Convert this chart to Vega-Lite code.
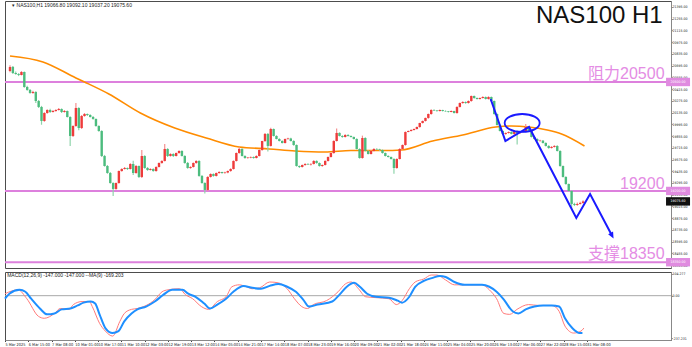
{
"$schema": "https://vega.github.io/schema/vega-lite/v6.json",
"padding": 0,
"spacing": 2,
"background": "white",
"config": {"view": {"stroke": "#4d4d4d", "strokeWidth": 1}, "font": "Liberation Sans", "axis": {"grid": false, "labelFont": "Liberation Sans Narrow, DejaVu Sans Condensed, Liberation Sans", "labelFontSize": 3.5, "labelColor": "#222", "tickColor": "#444", "tickSize": 1, "domainColor": "#888", "title": null, "labelOverlap": false, "labelBound": false}},
"datasets": {
"candles": [
{"i":0,"o":20630,"h":20700,"l":20615,"c":20680},{"i":2,"o":20680,"h":20690,"l":20595,"c":20607},{"i":4,"o":20607,"h":20625,"l":20585,"c":20595},{"i":6,"o":20595,"h":20605,"l":20570,"c":20584},{"i":8,"o":20584,"h":20630,"l":20578,"c":20619},
{"i":10,"o":20619,"h":20625,"l":20430,"c":20440},{"i":12,"o":20440,"h":20455,"l":20395,"c":20405},{"i":14,"o":20405,"h":20415,"l":20360,"c":20369},{"i":16,"o":20369,"h":20395,"l":20360,"c":20381},{"i":18,"o":20381,"h":20390,"l":20250,"c":20273},
{"i":20,"o":20273,"h":20285,"l":20190,"c":20202},{"i":22,"o":20202,"h":20215,"l":19990,"c":20035},{"i":24,"o":20035,"h":20140,"l":20025,"c":20130},{"i":26,"o":20130,"h":20175,"l":20120,"c":20166},{"i":28,"o":20166,"h":20180,"l":20130,"c":20142},
{"i":30,"o":20142,"h":20165,"l":20135,"c":20154},{"i":32,"o":20154,"h":20175,"l":20145,"c":20166},{"i":34,"o":20166,"h":20190,"l":20160,"c":20178},{"i":36,"o":20178,"h":20185,"l":20130,"c":20142},{"i":38,"o":20142,"h":20165,"l":20135,"c":20154},
{"i":40,"o":20154,"h":20160,"l":20075,"c":20082},{"i":42,"o":20082,"h":20090,"l":19735,"c":19856},{"i":44,"o":19856,"h":19985,"l":19845,"c":19975},{"i":46,"o":19975,"h":20250,"l":19965,"c":20190},{"i":48,"o":20190,"h":20200,"l":19925,"c":19951},
{"i":50,"o":19951,"h":20105,"l":19940,"c":20094},{"i":52,"o":20094,"h":20130,"l":20085,"c":20118},{"i":54,"o":20118,"h":20125,"l":20095,"c":20106},{"i":56,"o":20106,"h":20115,"l":20075,"c":20082},{"i":58,"o":20082,"h":20095,"l":20050,"c":20059},
{"i":60,"o":20059,"h":20065,"l":19965,"c":19975},{"i":62,"o":19975,"h":19985,"l":19905,"c":19915},{"i":64,"o":19915,"h":19925,"l":19605,"c":19617},{"i":66,"o":19617,"h":19630,"l":19490,"c":19498},{"i":68,"o":19498,"h":19510,"l":19405,"c":19414},
{"i":70,"o":19414,"h":19425,"l":19285,"c":19295},{"i":72,"o":19295,"h":19305,"l":19140,"c":19224},{"i":74,"o":19224,"h":19300,"l":19215,"c":19295},{"i":76,"o":19295,"h":19445,"l":19285,"c":19438},{"i":78,"o":19438,"h":19470,"l":19430,"c":19462},
{"i":80,"o":19462,"h":19485,"l":19455,"c":19474},{"i":82,"o":19474,"h":19480,"l":19450,"c":19462},{"i":84,"o":19462,"h":19530,"l":19455,"c":19522},{"i":86,"o":19522,"h":19560,"l":19390,"c":19414},{"i":88,"o":19414,"h":19510,"l":19405,"c":19498},
{"i":90,"o":19498,"h":19505,"l":19355,"c":19367},{"i":92,"o":19367,"h":19690,"l":19355,"c":19617},{"i":94,"o":19617,"h":19625,"l":19465,"c":19474},{"i":96,"o":19474,"h":19485,"l":19440,"c":19450},{"i":98,"o":19450,"h":19470,"l":19445,"c":19462},
{"i":100,"o":19462,"h":19470,"l":19430,"c":19438},{"i":102,"o":19438,"h":19495,"l":19430,"c":19486},{"i":104,"o":19486,"h":19540,"l":19480,"c":19534},{"i":106,"o":19534,"h":19565,"l":19525,"c":19558},{"i":108,"o":19558,"h":19760,"l":19550,"c":19701},
{"i":110,"o":19701,"h":19710,"l":19605,"c":19617},{"i":112,"o":19617,"h":19650,"l":19610,"c":19641},{"i":114,"o":19641,"h":19650,"l":19605,"c":19617},{"i":116,"o":19617,"h":19660,"l":19610,"c":19653},{"i":118,"o":19653,"h":19685,"l":19645,"c":19677},
{"i":120,"o":19677,"h":19685,"l":19610,"c":19617},{"i":122,"o":19617,"h":19625,"l":19525,"c":19534},{"i":124,"o":19534,"h":19545,"l":19465,"c":19474},{"i":126,"o":19474,"h":19495,"l":19465,"c":19486},{"i":128,"o":19486,"h":19540,"l":19480,"c":19534},
{"i":130,"o":19534,"h":19565,"l":19525,"c":19558},{"i":132,"o":19558,"h":19565,"l":19370,"c":19379},{"i":134,"o":19379,"h":19390,"l":19285,"c":19295},{"i":136,"o":19295,"h":19305,"l":19170,"c":19212},{"i":138,"o":19212,"h":19375,"l":19200,"c":19367},
{"i":140,"o":19367,"h":19410,"l":19360,"c":19402},{"i":142,"o":19402,"h":19410,"l":19370,"c":19379},{"i":144,"o":19379,"h":19420,"l":19372,"c":19414},{"i":146,"o":19414,"h":19435,"l":19405,"c":19426},{"i":148,"o":19426,"h":19430,"l":19405,"c":19414},
{"i":150,"o":19414,"h":19428,"l":19405,"c":19420},{"i":152,"o":19420,"h":19445,"l":19412,"c":19438},{"i":154,"o":19438,"h":19470,"l":19430,"c":19462},{"i":156,"o":19462,"h":19565,"l":19455,"c":19558},{"i":158,"o":19558,"h":19660,"l":19550,"c":19653},
{"i":160,"o":19653,"h":19720,"l":19645,"c":19701},{"i":162,"o":19701,"h":19710,"l":19610,"c":19617},{"i":164,"o":19617,"h":19625,"l":19585,"c":19593},{"i":166,"o":19593,"h":19605,"l":19585,"c":19598},{"i":168,"o":19598,"h":19612,"l":19590,"c":19605},
{"i":170,"o":19605,"h":19612,"l":19585,"c":19593},{"i":172,"o":19593,"h":19625,"l":19588,"c":19617},{"i":174,"o":19617,"h":19695,"l":19610,"c":19689},{"i":176,"o":19689,"h":19800,"l":19680,"c":19796},{"i":178,"o":19796,"h":19890,"l":19785,"c":19880},
{"i":180,"o":19880,"h":19890,"l":19670,"c":19737},{"i":182,"o":19737,"h":19955,"l":19730,"c":19939},{"i":184,"o":19939,"h":19945,"l":19850,"c":19856},{"i":186,"o":19856,"h":19865,"l":19815,"c":19820},{"i":188,"o":19820,"h":19830,"l":19790,"c":19796},
{"i":190,"o":19796,"h":19805,"l":19765,"c":19772},{"i":192,"o":19772,"h":19825,"l":19765,"c":19820},{"i":194,"o":19820,"h":19835,"l":19810,"c":19826},{"i":196,"o":19826,"h":19835,"l":19790,"c":19796},{"i":198,"o":19796,"h":19805,"l":19740,"c":19748},
{"i":200,"o":19748,"h":19755,"l":19490,"c":19498},{"i":202,"o":19498,"h":19505,"l":19475,"c":19486},{"i":204,"o":19486,"h":19515,"l":19480,"c":19510},{"i":206,"o":19510,"h":19530,"l":19500,"c":19522},{"i":208,"o":19522,"h":19530,"l":19510,"c":19516},
{"i":210,"o":19516,"h":19530,"l":19505,"c":19522},{"i":212,"o":19522,"h":19565,"l":19515,"c":19558},{"i":214,"o":19558,"h":19565,"l":19525,"c":19534},{"i":216,"o":19534,"h":19540,"l":19490,"c":19498},{"i":218,"o":19498,"h":19515,"l":19490,"c":19510},
{"i":220,"o":19510,"h":19565,"l":19505,"c":19558},{"i":222,"o":19558,"h":19610,"l":19550,"c":19605},{"i":224,"o":19605,"h":19660,"l":19600,"c":19653},{"i":226,"o":19653,"h":19805,"l":19645,"c":19796},{"i":228,"o":19796,"h":19945,"l":19790,"c":19892},
{"i":230,"o":19892,"h":19900,"l":19850,"c":19856},{"i":232,"o":19856,"h":19865,"l":19835,"c":19844},{"i":234,"o":19844,"h":19875,"l":19838,"c":19868},{"i":236,"o":19868,"h":19875,"l":19850,"c":19856},{"i":238,"o":19856,"h":19862,"l":19838,"c":19844},
{"i":240,"o":19844,"h":19850,"l":19815,"c":19820},{"i":242,"o":19820,"h":19828,"l":19695,"c":19701},{"i":244,"o":19701,"h":19708,"l":19585,"c":19593},{"i":246,"o":19593,"h":19860,"l":19585,"c":19832},{"i":248,"o":19832,"h":19840,"l":19670,"c":19677},
{"i":250,"o":19677,"h":19685,"l":19635,"c":19641},{"i":252,"o":19641,"h":19685,"l":19635,"c":19677},{"i":254,"o":19677,"h":19710,"l":19670,"c":19701},{"i":256,"o":19701,"h":19708,"l":19690,"c":19696},{"i":258,"o":19696,"h":19705,"l":19680,"c":19689},
{"i":260,"o":19689,"h":19695,"l":19645,"c":19653},{"i":262,"o":19653,"h":19660,"l":19610,"c":19617},{"i":264,"o":19617,"h":19625,"l":19598,"c":19605},{"i":266,"o":19605,"h":19612,"l":19575,"c":19581},{"i":268,"o":19581,"h":19590,"l":19405,"c":19474},
{"i":270,"o":19474,"h":19590,"l":19465,"c":19581},{"i":272,"o":19581,"h":19710,"l":19575,"c":19701},{"i":274,"o":19701,"h":19755,"l":19695,"c":19748},{"i":276,"o":19748,"h":19910,"l":19740,"c":19903},{"i":278,"o":19903,"h":19920,"l":19900,"c":19915},
{"i":280,"o":19915,"h":19935,"l":19908,"c":19927},{"i":282,"o":19927,"h":19945,"l":19920,"c":19939},{"i":284,"o":19939,"h":19970,"l":19932,"c":19963},{"i":286,"o":19963,"h":20015,"l":19955,"c":20011},{"i":288,"o":20011,"h":20040,"l":20005,"c":20035},
{"i":290,"o":20035,"h":20075,"l":20028,"c":20071},{"i":292,"o":20071,"h":20125,"l":20062,"c":20118},{"i":294,"o":20118,"h":20175,"l":20110,"c":20166},{"i":296,"o":20166,"h":20175,"l":20155,"c":20160},{"i":298,"o":20160,"h":20165,"l":20145,"c":20154},
{"i":300,"o":20154,"h":20172,"l":20148,"c":20166},{"i":302,"o":20166,"h":20170,"l":20148,"c":20154},{"i":304,"o":20154,"h":20162,"l":20145,"c":20150},{"i":306,"o":20150,"h":20155,"l":20135,"c":20142},{"i":308,"o":20142,"h":20160,"l":20138,"c":20154},
{"i":310,"o":20154,"h":20158,"l":20125,"c":20130},{"i":312,"o":20130,"h":20210,"l":20122,"c":20202},{"i":314,"o":20202,"h":20255,"l":20195,"c":20249},{"i":316,"o":20249,"h":20270,"l":20240,"c":20261},{"i":318,"o":20261,"h":20268,"l":20240,"c":20249},
{"i":320,"o":20249,"h":20280,"l":20242,"c":20273},{"i":322,"o":20273,"h":20340,"l":20265,"c":20333},{"i":324,"o":20333,"h":20340,"l":20300,"c":20309},{"i":326,"o":20309,"h":20315,"l":20290,"c":20297},{"i":328,"o":20297,"h":20315,"l":20290,"c":20309},
{"i":330,"o":20309,"h":20330,"l":20302,"c":20321},{"i":332,"o":20321,"h":20328,"l":20290,"c":20297},{"i":334,"o":20297,"h":20330,"l":20290,"c":20321},{"i":336,"o":20321,"h":20328,"l":20265,"c":20273},{"i":338,"o":20273,"h":20280,"l":20110,"c":20118},
{"i":340,"o":20118,"h":20125,"l":19980,"c":19987},{"i":342,"o":19987,"h":19995,"l":19908,"c":19915},{"i":344,"o":19915,"h":19922,"l":19870,"c":19880},{"i":346,"o":19880,"h":19898,"l":19872,"c":19892},{"i":348,"o":19892,"h":19910,"l":19885,"c":19903},
{"i":350,"o":19903,"h":19910,"l":19875,"c":19880},{"i":352,"o":19880,"h":19920,"l":19872,"c":19915},{"i":354,"o":19915,"h":19920,"l":19755,"c":19892},{"i":356,"o":19892,"h":19908,"l":19880,"c":19903},{"i":358,"o":19903,"h":19922,"l":19895,"c":19915},
{"i":360,"o":19915,"h":20000,"l":19908,"c":19963},{"i":362,"o":19963,"h":19970,"l":19908,"c":19915},{"i":364,"o":19915,"h":19922,"l":19838,"c":19844},{"i":366,"o":19844,"h":19850,"l":19815,"c":19820},{"i":368,"o":19820,"h":19828,"l":19790,"c":19796},
{"i":370,"o":19796,"h":19810,"l":19788,"c":19800},{"i":372,"o":19800,"h":19808,"l":19765,"c":19772},{"i":374,"o":19772,"h":19780,"l":19730,"c":19737},{"i":376,"o":19737,"h":19745,"l":19705,"c":19713},{"i":378,"o":19713,"h":19735,"l":19706,"c":19725},
{"i":380,"o":19725,"h":19745,"l":19718,"c":19737},{"i":382,"o":19737,"h":19745,"l":19670,"c":19677},{"i":384,"o":19677,"h":19685,"l":19490,"c":19498},{"i":386,"o":19498,"h":19505,"l":19360,"c":19367},{"i":388,"o":19367,"h":19375,"l":19275,"c":19283},
{"i":390,"o":19283,"h":19290,"l":19195,"c":19200},{"i":392,"o":19200,"h":19208,"l":18985,"c":19045},{"i":394,"o":19045,"h":19060,"l":19020,"c":19033},{"i":396,"o":19033,"h":19062,"l":19025,"c":19045},{"i":398,"o":19045,"h":19070,"l":19038,"c":19057},
{"i":400,"o":19057,"h":19090,"l":19050,"c":19075}
],
"ma": [
{"i":0,"v":20810},{"i":23,"v":20739},{"i":46,"v":20548},{"i":52,"v":20500},{"i":69,"v":20357},{"i":91,"v":20130},{"i":115,"v":19951},{"i":137,"v":19832},{"i":160,"v":19725},{"i":181,"v":19701},{"i":199,"v":19677},{"i":220,"v":19665},{"i":238,"v":19683},{"i":261,"v":19683},{"i":273,"v":19689},{"i":295,"v":19796},{"i":316,"v":19868},{"i":339,"v":19963},{"i":350,"v":19975},{"i":362,"v":19963},{"i":375,"v":19927},{"i":385,"v":19880},{"i":401,"v":19737}
],
"macd": [
{"i":0,"v":-14},{"i":3,"v":9},{"i":10,"v":27},{"i":14,"v":18},{"i":18,"v":-14},{"i":24,"v":-59},{"i":29,"v":-86},{"i":34,"v":-82},{"i":39,"v":-63},{"i":45,"v":-59},{"i":50,"v":-45},{"i":54,"v":-32},{"i":59,"v":-27},{"i":62,"v":-36},{"i":65,"v":-86},{"i":69,"v":-149},{"i":74,"v":-172},{"i":78,"v":-163},{"i":82,"v":-118},{"i":87,"v":-82},{"i":91,"v":-63},{"i":97,"v":-50},{"i":103,"v":-27},{"i":109,"v":5},{"i":115,"v":27},{"i":122,"v":27},{"i":126,"v":9},{"i":131,"v":-5},{"i":137,"v":-36},{"i":141,"v":-59},{"i":146,"v":-41},{"i":152,"v":-14},{"i":157,"v":18},{"i":164,"v":45},{"i":170,"v":36},{"i":176,"v":32},{"i":182,"v":45},{"i":188,"v":54},{"i":194,"v":41},{"i":200,"v":18},{"i":205,"v":-18},{"i":209,"v":-50},{"i":215,"v":-41},{"i":225,"v":-27},{"i":230,"v":5},{"i":235,"v":41},{"i":240,"v":59},{"i":244,"v":41},{"i":249,"v":9},{"i":255,"v":-5},{"i":264,"v":-9},{"i":270,"v":-23},{"i":273,"v":-32},{"i":278,"v":-5},{"i":282,"v":41},{"i":288,"v":68},{"i":294,"v":82},{"i":299,"v":91},{"i":303,"v":86},{"i":309,"v":63},{"i":316,"v":50},{"i":322,"v":50},{"i":328,"v":50},{"i":333,"v":41},{"i":338,"v":18},{"i":343,"v":-18},{"i":349,"v":-72},{"i":353,"v":-82},{"i":358,"v":-63},{"i":364,"v":-50},{"i":370,"v":-45},{"i":376,"v":-45},{"i":381,"v":-50},{"i":385,"v":-104},{"i":390,"v":-149},{"i":395,"v":-172},{"i":397,"v":-172}
],
"sig": [
{"i":0,"v":9},{"i":9,"v":27},{"i":15,"v":-14},{"i":23,"v":-95},{"i":27,"v":-104},{"i":34,"v":-82},{"i":38,"v":-59},{"i":44,"v":-63},{"i":47,"v":-41},{"i":53,"v":-27},{"i":58,"v":-27},{"i":60,"v":-50},{"i":65,"v":-127},{"i":69,"v":-163},{"i":74,"v":-186},{"i":79,"v":-118},{"i":82,"v":-82},{"i":87,"v":-63},{"i":91,"v":-59},{"i":103,"v":-18},{"i":108,"v":18},{"i":112,"v":27},{"i":120,"v":32},{"i":124,"v":5},{"i":129,"v":-14},{"i":135,"v":-50},{"i":140,"v":-63},{"i":146,"v":-27},{"i":152,"v":-5},{"i":156,"v":41},{"i":161,"v":50},{"i":166,"v":41},{"i":170,"v":32},{"i":175,"v":36},{"i":182,"v":63},{"i":188,"v":59},{"i":194,"v":32},{"i":199,"v":-14},{"i":204,"v":-50},{"i":208,"v":-59},{"i":212,"v":-41},{"i":221,"v":-23},{"i":229,"v":18},{"i":234,"v":54},{"i":238,"v":63},{"i":243,"v":32},{"i":248,"v":-5},{"i":255,"v":-9},{"i":264,"v":-14},{"i":269,"v":-41},{"i":273,"v":-23},{"i":278,"v":32},{"i":282,"v":63},{"i":288,"v":77},{"i":293,"v":95},{"i":297,"v":95},{"i":303,"v":72},{"i":309,"v":50},{"i":318,"v":50},{"i":328,"v":50},{"i":333,"v":27},{"i":338,"v":-14},{"i":343,"v":-82},{"i":347,"v":-86},{"i":352,"v":-63},{"i":360,"v":-41},{"i":367,"v":-45},{"i":376,"v":-45},{"i":381,"v":-72},{"i":385,"v":-140},{"i":391,"v":-172},{"i":396,"v":-163},{"i":398,"v":-149}
],
"arrow": [
{"n":1,"i":335.5,"p":20297},{"n":2,"i":345.8,"p":19796},{"n":3,"i":362.3,"p":19963},{"n":4,"i":395.3,"p":18878},{"n":5,"i":404.9,"p":19164},{"n":6,"i":420,"p":18675}
],
"levels": [{"p":20500,"t":"20500.00","k":"level"},{"p":19200,"t":"19200.00","k":"level"},{"p":18350,"t":"18350.00","k":"level"},{"p":19075.6,"t":"19075.60","k":"price"}]
},
"vconcat": [
{
"width": 666, "height": 267,
"layer": [
{"data": {"name": "levels"}, "transform": [{"filter": "datum.k == 'level'"}],
 "mark": {"type": "rule", "color": "#dd80dd", "strokeWidth": 2},
 "encoding": {"y": {"field": "p", "type": "quantitative", "scale": {"domain": [18281, 21466], "nice": false, "zero": false},
   "axis": {"orient": "right", "title": null, "labelOverlap": false, "tickCount": 60, "labelFontSize": 3.5, "values": [21395,21255,21115,20975,20835,20695,20555,20415,20275,20135,19995,19855,19715,19575,19435,19295,19155,19015,18875,18735,18595,18455,18315], "format": ".2f", "labelPadding": 0}}}},
{"data": {"name": "ma"}, "mark": {"type": "line", "color": "#ff8c00", "strokeWidth": 1.6, "interpolate": "monotone"},
 "encoding": {"x": {"field": "i", "type": "quantitative", "scale": {"domain": [0, 457.9], "nice": false, "zero": false}, "axis": null},
   "y": {"field": "v", "type": "quantitative", "scale": {"domain": [18281, 21466], "nice": false, "zero": false}}}},
{"data": {"name": "candles"}, "mark": {"type": "rule", "strokeWidth": 1.2},
 "encoding": {"x": {"field": "i", "type": "quantitative", "scale": {"domain": [0, 457.9], "nice": false, "zero": false}, "axis": null},
   "y": {"field": "l", "type": "quantitative", "scale": {"domain": [18281, 21466], "nice": false, "zero": false}},
   "y2": {"field": "h"},
   "color": {"condition": {"test": "datum.c >= datum.o", "value": "#f49090"}, "value": "#8fd4ab"}}},
{"data": {"name": "candles"}, "mark": {"type": "bar", "width": 2.4},
 "encoding": {"x": {"field": "i", "type": "quantitative", "scale": {"domain": [0, 457.9], "nice": false, "zero": false}, "axis": null},
   "y": {"field": "o", "type": "quantitative", "scale": {"domain": [18281, 21466], "nice": false, "zero": false}},
   "y2": {"field": "c"},
   "color": {"condition": {"test": "datum.c >= datum.o", "value": "#ee3b3b"}, "value": "#4cbc7e"}}},
{"data": {"name": "arrow"}, "mark": {"type": "line", "color": "#1a1aff", "strokeWidth": 2},
 "encoding": {"x": {"field": "i", "type": "quantitative", "scale": {"domain": [0, 457.9], "nice": false, "zero": false}, "axis": null},
   "y": {"field": "p", "type": "quantitative", "scale": {"domain": [18281, 21466], "nice": false, "zero": false}},
   "order": {"field": "n"}}},
{"data": {"name": "arrow"}, "transform": [{"filter": "datum.n == 6"}],
 "mark": {"type": "point", "shape": "M0,1L-0.7,-0.6L0.7,-0.6Z", "filled": true, "color": "#1a1aff", "opacity": 1, "size": 64, "angle": 332},
 "encoding": {"x": {"field": "i", "type": "quantitative", "scale": {"domain": [0, 457.9], "nice": false, "zero": false}, "axis": null},
   "y": {"field": "p", "type": "quantitative", "scale": {"domain": [18281, 21466], "nice": false, "zero": false}}}},
{"data": {"values": [{"i": 357.5, "p": 20011}]},
 "mark": {"type": "point", "shape": "M-1,0A1,0.514,0,1,0,1,0A1,0.514,0,1,0,-1,0Z", "filled": false, "stroke": "#1a1aff", "strokeWidth": 1.8, "opacity": 1, "size": 1225},
 "encoding": {"x": {"field": "i", "type": "quantitative", "scale": {"domain": [0, 457.9], "nice": false, "zero": false}, "axis": null},
   "y": {"field": "p", "type": "quantitative", "scale": {"domain": [18281, 21466], "nice": false, "zero": false}}}},
{"data": {"name": "levels"},
 "mark": {"type": "point", "shape": "M-1,-0.35L1,-0.35L1,0.35L-1,0.35Z", "filled": true, "opacity": 1, "size": 576},
 "encoding": {"x": {"datum": 466.3, "type": "quantitative", "scale": {"domain": [0, 457.9], "nice": false, "zero": false}, "axis": null},
   "y": {"field": "p", "type": "quantitative", "scale": {"domain": [18281, 21466], "nice": false, "zero": false}},
   "color": {"field": "k", "type": "nominal", "scale": {"domain": ["level", "price"], "range": ["#e08be0", "#111111"]}, "legend": null}}},
{"data": {"name": "levels"},
 "mark": {"type": "text", "align": "center", "baseline": "middle", "fontSize": 3.5, "font": "Liberation Sans Narrow, DejaVu Sans Condensed, Liberation Sans", "color": "white"},
 "encoding": {"x": {"datum": 466.3, "type": "quantitative", "scale": {"domain": [0, 457.9], "nice": false, "zero": false}, "axis": null},
   "y": {"field": "p", "type": "quantitative", "scale": {"domain": [18281, 21466], "nice": false, "zero": false}},
   "text": {"field": "t"}}},
{"data": {"values": [{"t": "NAS100 H1"}]},
 "mark": {"type": "text", "align": "right", "baseline": "alphabetic", "fontSize": 24, "font": "Liberation Sans", "color": "#111111"},
 "encoding": {"x": {"datum": 455.6, "type": "quantitative", "scale": {"domain": [0, 457.9], "nice": false, "zero": false}, "axis": null},
   "y": {"datum": 21204, "type": "quantitative", "scale": {"domain": [18281, 21466], "nice": false, "zero": false}},
   "text": {"field": "t"}}},
{"data": {"values": [{"t": "阻力20500", "p": 20535}, {"t": "19200", "p": 19223}, {"t": "支撑18350", "p": 18388}]},
 "mark": {"type": "text", "align": "right", "baseline": "alphabetic", "fontSize": 16, "font": "Liberation Sans, Noto Sans CJK SC", "color": "#e48ce4"},
 "encoding": {"x": {"datum": 456.9, "type": "quantitative", "scale": {"domain": [0, 457.9], "nice": false, "zero": false}, "axis": null},
   "y": {"field": "p", "type": "quantitative", "scale": {"domain": [18281, 21466], "nice": false, "zero": false}},
   "text": {"field": "t"}}},
{"data": {"values": [{"t": "▾ NAS100,H1  19066.80 19092.10 19037.20 19075.60"}]},
 "mark": {"type": "text", "align": "left", "baseline": "middle", "fontSize": 5, "color": "#222222"},
 "encoding": {"x": {"datum": 1.5, "type": "quantitative", "scale": {"domain": [0, 457.9], "nice": false, "zero": false}, "axis": null},
   "y": {"datum": 21418, "type": "quantitative", "scale": {"domain": [18281, 21466], "nice": false, "zero": false}},
   "text": {"field": "t"}}}
]
},
{
"width": 666, "height": 68,
"layer": [
{"data": {"values": [{"z": 0}]}, "mark": {"type": "rule", "color": "#a8a8a8", "strokeWidth": 1},
 "encoding": {"y": {"field": "z", "type": "quantitative", "scale": {"domain": [-204, 109], "nice": false, "zero": false},
   "axis": {"orient": "right", "title": null, "labelOverlap": false, "tickCount": 10, "values": [100, 0, -195], "labelExpr": "datum.value > 50 ? '104.277' : (datum.value < -50 ? '-237.231' : '0.00')", "labelPadding": 0}}}},
{"data": {"name": "sig"}, "mark": {"type": "line", "color": "#ff7a7a", "strokeWidth": 1, "interpolate": "monotone"},
 "encoding": {"x": {"field": "i", "type": "quantitative", "scale": {"domain": [0, 457.9], "nice": false, "zero": false},
   "axis": {"title": null, "labelOverlap": false, "tickCount": 60, "values": [0,16,32,48,64,80,96,112,128,144,160,176,192,208,224,240,256,272,288,304,320,336,352,368,384,400], "labelAlign": "left", "labelPadding": 0.5, "tickSize": 1.5, "labelFontSize": 3.9, "labelExpr": "['5 Mar 2025','6 Mar 15:00','7 Mar 08:00','10 Mar 01:00','10 Mar 17:00','11 Mar 10:00','12 Mar 03:00','12 Mar 19:00','13 Mar 12:00','14 Mar 05:00','14 Mar 21:00','17 Mar 14:00','18 Mar 07:00','18 Mar 23:00','19 Mar 16:00','20 Mar 09:00','21 Mar 02:00','21 Mar 18:00','24 Mar 11:00','25 Mar 04:00','25 Mar 20:00','26 Mar 13:00','27 Mar 06:00','27 Mar 22:00','28 Mar 15:00','31 Mar 08:00'][round(datum.value/16)]"}},
   "y": {"field": "v", "type": "quantitative", "scale": {"domain": [-204, 109], "nice": false, "zero": false}}}},
{"data": {"name": "macd"}, "mark": {"type": "line", "color": "#1e8fff", "strokeWidth": 2, "interpolate": "monotone"},
 "encoding": {"x": {"field": "i", "type": "quantitative", "scale": {"domain": [0, 457.9], "nice": false, "zero": false}},
   "y": {"field": "v", "type": "quantitative", "scale": {"domain": [-204, 109], "nice": false, "zero": false}}}},
{"data": {"values": [{"t": "MACD(12,26,9) -147.000 -147.000 --MA(9) -169.203"}]},
 "mark": {"type": "text", "align": "left", "baseline": "middle", "fontSize": 5, "color": "#222222"},
 "encoding": {"x": {"datum": 1.5, "type": "quantitative", "scale": {"domain": [0, 457.9], "nice": false, "zero": false}},
   "y": {"datum": 93, "type": "quantitative", "scale": {"domain": [-204, 109], "nice": false, "zero": false}},
   "text": {"field": "t"}}}
]
}
]
}
